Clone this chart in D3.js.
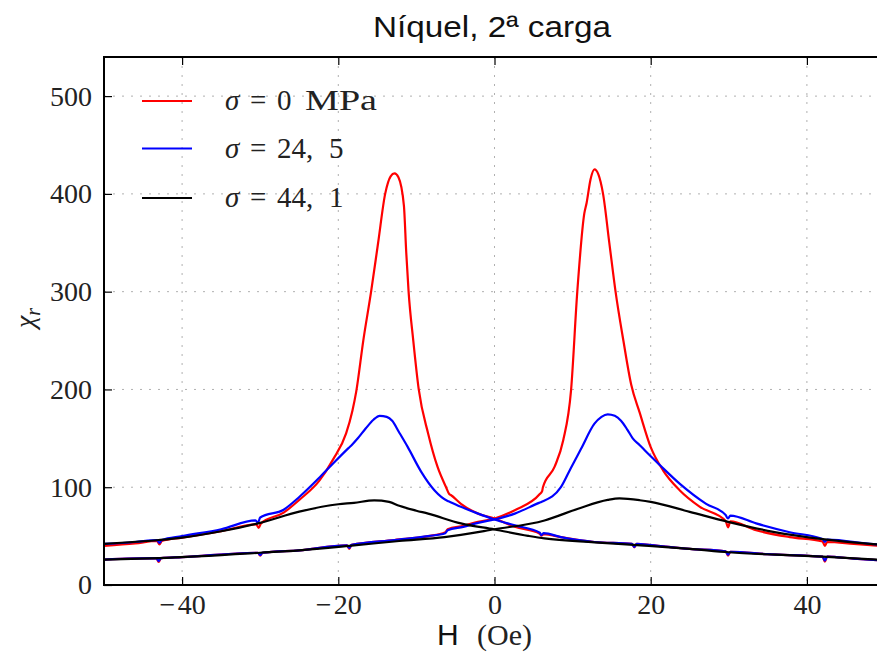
<!DOCTYPE html>
<html><head><meta charset="utf-8">
<script src="https://cdn.jsdelivr.net/npm/d3@7"></script>
<style>
html,body{margin:0;padding:0;background:#fff;}
svg{display:block;}
</style></head>
<body>
<svg id="c" width="877" height="658"></svg>
<script>
// ---------------- data ----------------
const xTicks = [-40, -20, 0, 20, 40];
const yTicks = [0, 100, 200, 300, 400, 500];
const xTickLabels = ["\u2212\u200a40", "\u2212\u200a20", "0", "20", "40"];
const yTickLabels = ["0", "100", "200", "300", "400", "500"];
const legendNumbers = [["0"], ["24,", "5"], ["44,", "1"]];
const legendUnit = "MPa";
const seriesColors = ["#ff0000", "#0000ff", "#000000"];

// branch with peak at negative H  [H, chi]
const red1 = [[-50,40],[-46,42.5],[-43.2,45],[-42.9,41.5],[-42.6,45],[-40,48.5],[-35,55],[-30.5,62],[-30.2,58.5],[-29.9,63],[-27,74],[-25,87],[-22.4,107],[-20.7,128],[-19.0,155],[-18.2,178],[-17.7,198],[-16.8,250],[-15.8,300],[-14.9,350],[-14.0,400],[-13.3,418],[-12.8,421],[-12.3,417],[-11.6,388],[-11.3,340],[-11.0,300],[-10.4,250],[-9.7,200],[-8.5,155],[-7.3,121],[-6.2,100],[-5.8,93],[-5.6,92],[-4.3,83],[-2.1,73],[0,68],[2.6,59.5],[5.8,52.5],[6.0,50.5],[6.3,52],[8.5,49],[12.8,44],[17.6,42],[17.9,38.5],[18.2,42],[20,40.8],[25,37],[29.6,34.5],[29.9,30],[30.2,34],[35,31.5],[42.0,29],[42.3,24],[42.6,29],[46,27],[50,25]];
// branch with peak at positive H
const red2 = [[-50,26],[-43.3,27.5],[-43,23.5],[-42.7,27.5],[-40,28.5],[-30.3,33],[-30,30],[-29.7,33],[-25,35.5],[-18.9,40.5],[-18.6,37],[-18.3,41],[-12.8,46],[-8.5,50],[-6.3,54],[-6.0,57],[-4,60.5],[-2.1,64.6],[0,68],[2.6,76.5],[5.8,93],[6.1,96],[6.2,100],[7.7,121],[8.8,148],[9.8,199],[10.6,300],[11.5,380],[11.8,391],[12.3,415],[12.8,425],[13.3,420],[13.9,400],[14.7,350],[15.5,300],[16.5,250],[17.5,205],[18.6,176],[20,141],[21.6,117],[23.7,97],[26.3,80],[29.6,65.5],[29.9,59],[30.2,65],[33.5,56],[37.8,49],[42.0,44.5],[42.3,40],[42.6,44],[46,42],[50,39.5]];

const blue1 = [[-50,42],[-46,44],[-43.2,46],[-42.9,43],[-42.6,46],[-40,50],[-35,57],[-30.6,66],[-30.3,63.5],[-30.0,69],[-27,77],[-25,90],[-22.4,110],[-20.7,124],[-18.7,140],[-18.3,143],[-17.5,150],[-16.5,160],[-15.5,169],[-14.7,173],[-13.8,172],[-13.1,168],[-12.2,156],[-11.1,141],[-9.4,116],[-7.7,97],[-6.0,86],[-5.7,85],[-4.3,80],[-2.1,73],[0,67],[2.6,61],[5.8,53.5],[6.0,51],[6.3,53],[8.5,49],[12.8,44],[17.6,42],[17.9,39],[18.2,42],[20,40.8],[25,37],[29.6,34.5],[29.9,31],[30.2,34],[35,31.5],[42.0,29],[42.3,25],[42.6,29],[46,27],[50,25]];
const blue2 = [[-50,26],[-43.3,27.5],[-43,24.5],[-42.7,27.5],[-40,28.5],[-30.3,33],[-30,30.5],[-29.7,33],[-25,35.5],[-18.9,40.5],[-18.6,38],[-18.3,41],[-12.8,46],[-8.5,50],[-6.3,53],[-6.0,56],[-4,59.5],[-2.1,63.6],[0,67],[2.6,73],[5.7,84],[6.0,85],[8.5,100],[9.8,120],[11.1,139.5],[12.8,165],[13.7,172],[14.5,174.5],[15.4,173],[16.2,168],[17.0,159],[17.7,150],[18.6,143],[19.2,138],[21.2,122.4],[23.7,103.7],[27.1,83],[29.6,71.5],[29.9,68],[30.2,71],[33.5,63],[37.8,54],[42.0,47],[42.3,44],[42.6,46.5],[48.5,41.8],[50,41]];

const black1 = [[-50,42],[-43,46],[-40,48.5],[-35,55],[-30,63.6],[-25,75],[-20,82.6],[-18,84],[-15.4,86.5],[-13.5,85],[-12.2,81],[-10,76],[-8.5,73],[-4.3,63],[0,56.8],[4.3,50.3],[6.4,47.6],[12.8,43.6],[19.2,40.3],[25,37],[30,33.5],[36,31],[42,29],[50,25.5]];
const black2 = [[-50,26],[-43,27.5],[-30,33],[-25,35.5],[-18.6,40],[-12.2,45],[-6.4,49],[0,57],[6.4,66],[10.7,78],[14.5,87],[16,88.5],[18.6,86.7],[20,85],[25,74.8],[29.9,64.6],[35.7,54.4],[42.3,46.6],[48.5,41.8],[50,41]];

const series = [
  {color: seriesColors[0], branches: [red1, red2]},
  {color: seriesColors[1], branches: [blue1, blue2]},
  {color: seriesColors[2], branches: [black1, black2]}
];

// ---------------- drawing ----------------
const svg = d3.select("#c");
const L = 104, R = 885, T = 57, B = 585;
const x = d3.scaleLinear().domain([-50, 50]).range([L, R]);
const y = d3.scaleLinear().domain([0, 540]).range([B, T]);
const serif = "'Liberation Serif','DejaVu Serif',serif";
const sans = "'Liberation Sans','Arial',sans-serif";

svg.append("rect").attr("x",0).attr("y",0).attr("width",877).attr("height",658).attr("fill","#fff");

svg.append("defs").append("clipPath").attr("id","clip")
  .append("rect").attr("x",L).attr("y",T).attr("width",R-L).attr("height",B-T);

// grid
const grid = svg.append("g");
grid.selectAll("line.gx").data(xTicks).join("line")
  .attr("x1",d=>x(d)).attr("x2",d=>x(d)).attr("y1",T).attr("y2",B)
  .attr("stroke","#b0b0b0").attr("stroke-width",1).attr("stroke-dasharray","2,7");
grid.selectAll("line.gy").data(yTicks).join("line")
  .attr("y1",d=>y(d)).attr("y2",d=>y(d)).attr("x1",L).attr("x2",R)
  .attr("stroke","#b0b0b0").attr("stroke-width",1).attr("stroke-dasharray","2,7");

// curves
const line = d3.line().x(d=>x(d[0])).y(d=>y(d[1])).curve(d3.curveMonotoneX);
const plot = svg.append("g").attr("clip-path","url(#clip)");
series.forEach(s => {
  s.branches.forEach(b => {
    plot.append("path").datum(b).attr("d", line)
      .attr("fill","none").attr("stroke", s.color).attr("stroke-width", 2.2)
      .attr("stroke-linejoin","round");
  });
});

// axes
const xAxis = d3.axisBottom(x).tickValues(xTicks).tickFormat((d,i)=>xTickLabels[i])
  .tickSizeInner(-8).tickSizeOuter(0).tickPadding(9);
const gx = svg.append("g").attr("transform",`translate(0,${B})`).call(xAxis);
gx.select(".domain").remove();
gx.selectAll(".tick line").attr("stroke","#000").attr("stroke-width",1.2);
gx.selectAll("text").attr("font-family",serif).attr("font-size",28).attr("fill","#222");

const xTop = d3.axisTop(x).tickValues(xTicks).tickFormat("").tickSizeInner(-8).tickSizeOuter(0);
const gxt = svg.append("g").attr("transform",`translate(0,${T})`).call(xTop);
gxt.select(".domain").remove();
gxt.selectAll(".tick line").attr("stroke","#000").attr("stroke-width",1.2);

const yAxis = d3.axisLeft(y).tickValues(yTicks).tickFormat((d,i)=>yTickLabels[i])
  .tickSizeInner(-8).tickSizeOuter(0).tickPadding(12);
const gy = svg.append("g").attr("transform",`translate(${L},0)`).call(yAxis);
gy.select(".domain").remove();
gy.selectAll(".tick line").attr("stroke","#000").attr("stroke-width",1.2);
gy.selectAll("text").attr("font-family",serif).attr("font-size",28).attr("fill","#222");

// spines
svg.append("rect").attr("x",L).attr("y",T).attr("width",R-L).attr("height",B-T)
  .attr("fill","none").attr("stroke","#000").attr("stroke-width",2);

// title
svg.append("text").attr("x",492).attr("y",37).attr("text-anchor","middle")
  .attr("font-family",sans).attr("font-size",30).attr("fill","#111")
  .attr("textLength",238).attr("lengthAdjust","spacingAndGlyphs")
  .text("Níquel, 2ª carga");

// x label
svg.append("text").attr("x",437).attr("y",645)
  .attr("font-family",sans).attr("font-size",30).attr("fill","#111").text("H");
svg.append("text").attr("x",477).attr("y",645)
  .attr("font-family",serif).attr("font-size",30).attr("fill","#222").text("(Oe)");

// y label
const yl = svg.append("text").attr("transform","translate(34,318) rotate(-90)")
  .attr("text-anchor","middle").attr("font-family",serif).attr("fill","#222");
yl.append("tspan").attr("font-style","italic").attr("font-size",28).text("χ");
yl.append("tspan").attr("font-style","italic").attr("font-size",20).attr("dy",6).text("r");

// legend
const legY = [101, 148.5, 198];
series.forEach((s,i) => {
  svg.append("line").attr("x1",142).attr("x2",192).attr("y1",legY[i]).attr("y2",legY[i])
    .attr("stroke",s.color).attr("stroke-width",2.2);
  const base = legY[i] + 9;
  const g = svg.append("g").attr("font-family",serif).attr("font-size",29).attr("fill","#222");
  g.append("text").attr("x",225).attr("y",base).attr("font-style","italic").text("σ");
  g.append("text").attr("x",250).attr("y",base).text("=");
  const nums = legendNumbers[i];
  g.append("text").attr("x",277).attr("y",base).text(nums[0]);
  if (nums.length > 1) {
    g.append("text").attr("x",329).attr("y",base).text(nums[1]);
  } else {
    g.append("text").attr("x",305).attr("y",base).attr("font-size",30)
      .attr("textLength",72).attr("lengthAdjust","spacingAndGlyphs").text(legendUnit);
  }
});
</script>
</body></html>
